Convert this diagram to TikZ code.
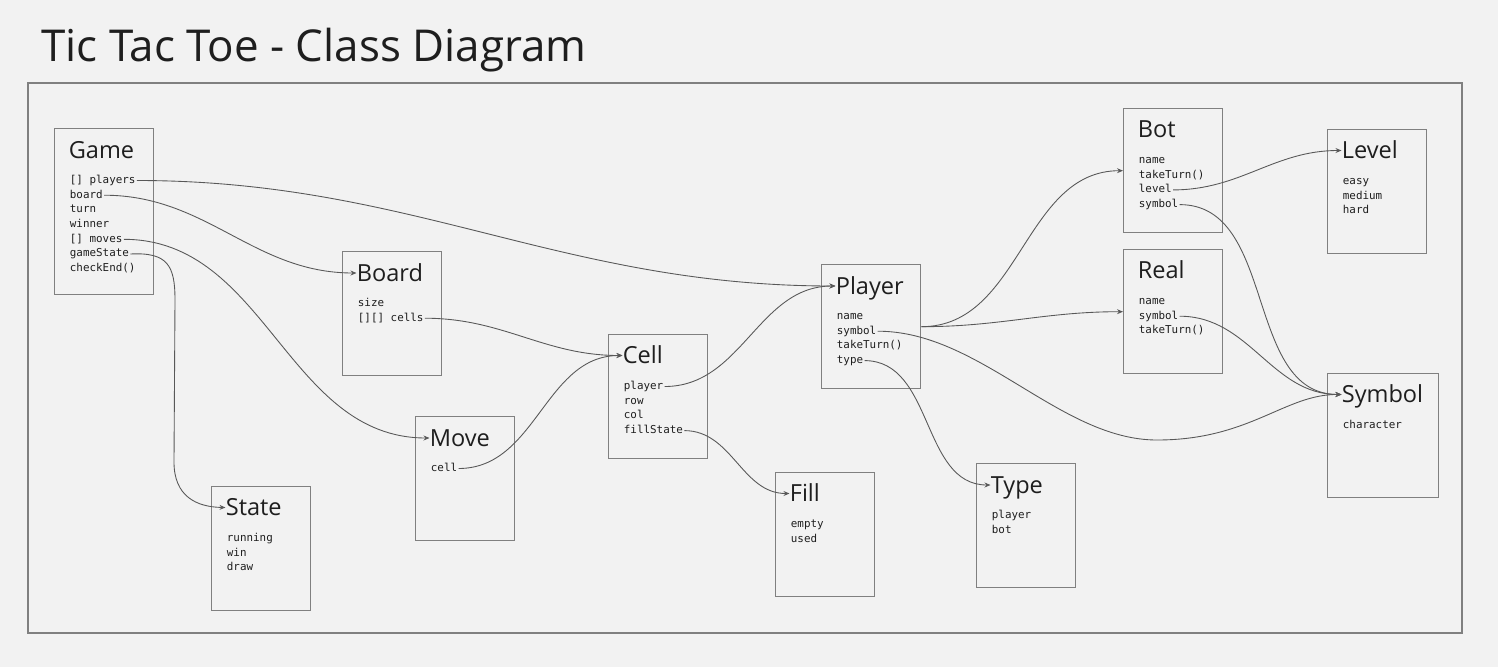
\documentclass[tikz,border=0pt]{standalone}
\usepackage{fontspec}
\setmainfont{Open Sans}
\newfontfamily\monofont{DejaVu Sans Mono}
\usetikzlibrary{arrows.meta}

\definecolor{bgcol}{HTML}{F2F2F2}
\definecolor{boxcol}{HTML}{808080}
\definecolor{linkcol}{HTML}{585858}
\definecolor{inkcol}{HTML}{1E1E1E}

\begin{document}
\begin{tikzpicture}[
        x=0.02cm, y=-0.02cm, % one unit = one pixel of the sketch
        cls/.style={draw=boxcol, line width=0.8pt, anchor=north west, inner sep=0pt,
                minimum width=1.98cm, minimum height=2.48cm},
        ctitle/.style={anchor=west, inner sep=0pt, text height=9.6pt, text depth=0pt,
                font=\fontsize{13.4}{14}\selectfont, text=inkcol},
        attr/.style={anchor=west, inner sep=0.6pt, text height=3.3pt, text depth=0pt,
                font=\monofont\fontsize{6.2}{7}\selectfont, text=inkcol},
        link/.style={draw=linkcol, line width=0.5pt, -{Stealth[length=3.4pt, width=2.8pt]}},
    ]

    % background and frame
    \fill[bgcol] (0,0) rectangle (1498,667);
    \draw[boxcol, line width=0.7pt] (28,83) rectangle (1462,633);
    \node[anchor=base west, inner sep=0pt, font=\fontsize{25}{28}\selectfont, text=inkcol] (title) at (41,61) {Tic Tac Toe - Class Diagram};

    % classes
    \node[cls, minimum height=3.32cm] (game) at (54,128) {};
    \node[ctitle] (gameT) at ([shift={(14.5,22)}]game.north west) {Game};
    \foreach \a [count=\i] in {{[] players}, board, turn, winner, {[] moves}, gameState, checkEnd()}
        \node[attr] (game\i) at ([shift={(14.5,37.8+14.7*\i)}]game.north west) {\a};

    \node[cls] (board) at (342,251) {};
    \node[ctitle] (boardT) at ([shift={(14.5,22)}]board.north west) {Board};
    \foreach \a [count=\i] in {size, {[][] cells}}
        \node[attr] (board\i) at ([shift={(14.5,37.8+14.7*\i)}]board.north west) {\a};

    \node[cls] (move) at (415,416) {};
    \node[ctitle] (moveT) at ([shift={(14.5,22)}]move.north west) {Move};
    \foreach \a [count=\i] in {cell}
        \node[attr] (move\i) at ([shift={(14.5,37.8+14.7*\i)}]move.north west) {\a};

    \node[cls] (state) at (211,486) {};
    \node[ctitle] (stateT) at ([shift={(14.5,21.5)}]state.north west) {State};
    \foreach \a [count=\i] in {running, win, draw}
        \node[attr] (state\i) at ([shift={(14.5,37.8+14.7*\i)}]state.north west) {\a};

    \node[cls] (cell) at (608,334) {};
    \node[ctitle] (cellT) at ([shift={(14.5,21.5)}]cell.north west) {Cell};
    \foreach \a [count=\i] in {player, row, col, fillState}
        \node[attr] (cell\i) at ([shift={(14.5,37.8+14.7*\i)}]cell.north west) {\a};

    \node[cls] (fill) at (775,472) {};
    \node[ctitle] (fillT) at ([shift={(14.5,21.5)}]fill.north west) {Fill};
    \foreach \a [count=\i] in {empty, used}
        \node[attr] (fill\i) at ([shift={(14.5,37.8+14.7*\i)}]fill.north west) {\a};

    \node[cls] (player) at (821,264) {};
    \node[ctitle] (playerT) at ([shift={(14.5,22)}]player.north west) {Player};
    \foreach \a [count=\i] in {name, symbol, takeTurn(), type}
        \node[attr] (player\i) at ([shift={(14.5,37.8+14.7*\i)}]player.north west) {\a};

    \node[cls] (type) at (976,463) {};
    \node[ctitle] (typeT) at ([shift={(14.5,22)}]type.north west) {Type};
    \foreach \a [count=\i] in {player, bot}
        \node[attr] (type\i) at ([shift={(14.5,37.8+14.7*\i)}]type.north west) {\a};

    \node[cls] (bot) at (1123,108) {};
    \node[ctitle] (botT) at ([shift={(14.5,21.5)}]bot.north west) {Bot};
    \foreach \a [count=\i] in {name, takeTurn(), level, symbol}
        \node[attr] (bot\i) at ([shift={(14.5,37.8+14.7*\i)}]bot.north west) {\a};

    \node[cls] (real) at (1123,249) {};
    \node[ctitle] (realT) at ([shift={(14.5,21.5)}]real.north west) {Real};
    \foreach \a [count=\i] in {name, symbol, takeTurn()}
        \node[attr] (real\i) at ([shift={(14.5,37.8+14.7*\i)}]real.north west) {\a};

    \node[cls] (level) at (1327,129) {};
    \node[ctitle] (levelT) at ([shift={(14.5,21.5)}]level.north west) {Level};
    \foreach \a [count=\i] in {easy, medium, hard}
        \node[attr] (level\i) at ([shift={(14.5,37.8+14.7*\i)}]level.north west) {\a};

    \node[cls, minimum width=2.22cm] (symbol) at (1327,373) {};
    \node[ctitle] (symbolT) at ([shift={(14.5,21.5)}]symbol.north west) {Symbol};
    \foreach \a [count=\i] in {character}
        \node[attr] (symbol\i) at ([shift={(14.5,37.8+14.7*\i)}]symbol.north west) {\a};

    % links
    \draw[link] (game1.east) to[out=0, in=180] (playerT.west);
    \draw[link] (game2.east) to[out=0, in=180] (boardT.west);
    \draw[link] (game5.east) to[out=0, in=180] (moveT.west);
    \draw[link] (game6.east) .. controls (168,252) and (175,266) .. (175,300)
        -- (174,462) .. controls (174,496) and (196,507) .. (stateT.west);
    \draw[link] (board2.east) to[out=0, in=180] (cellT.west);
    \draw[link] (move1.east) to[out=0, in=180] (cellT.west);
    \draw[link] (cell1.east) to[out=0, in=180] (playerT.west);
    \draw[link] (cell4.east) to[out=0, in=180] (fillT.west);
    \draw[link] (player.east) to[out=0, in=180] (bot.west);
    \draw[link] (player.east) to[out=0, in=180] (real.west);
    \draw[link] (player2.east) .. controls (980,331) and (1060,440) .. (1157,440)
        .. controls (1250,440) and (1285,394) .. (symbolT.west);
    \draw[link] (player4.east) to[out=0, in=180] (typeT.west);
    \draw[link] (bot3.east) to[out=0, in=180] (levelT.west);
    \draw[link] (bot4.east) to[out=0, in=180] (symbolT.west);
    \draw[link] (real2.east) to[out=0, in=180] (symbolT.west);
\end{tikzpicture}
\end{document}
